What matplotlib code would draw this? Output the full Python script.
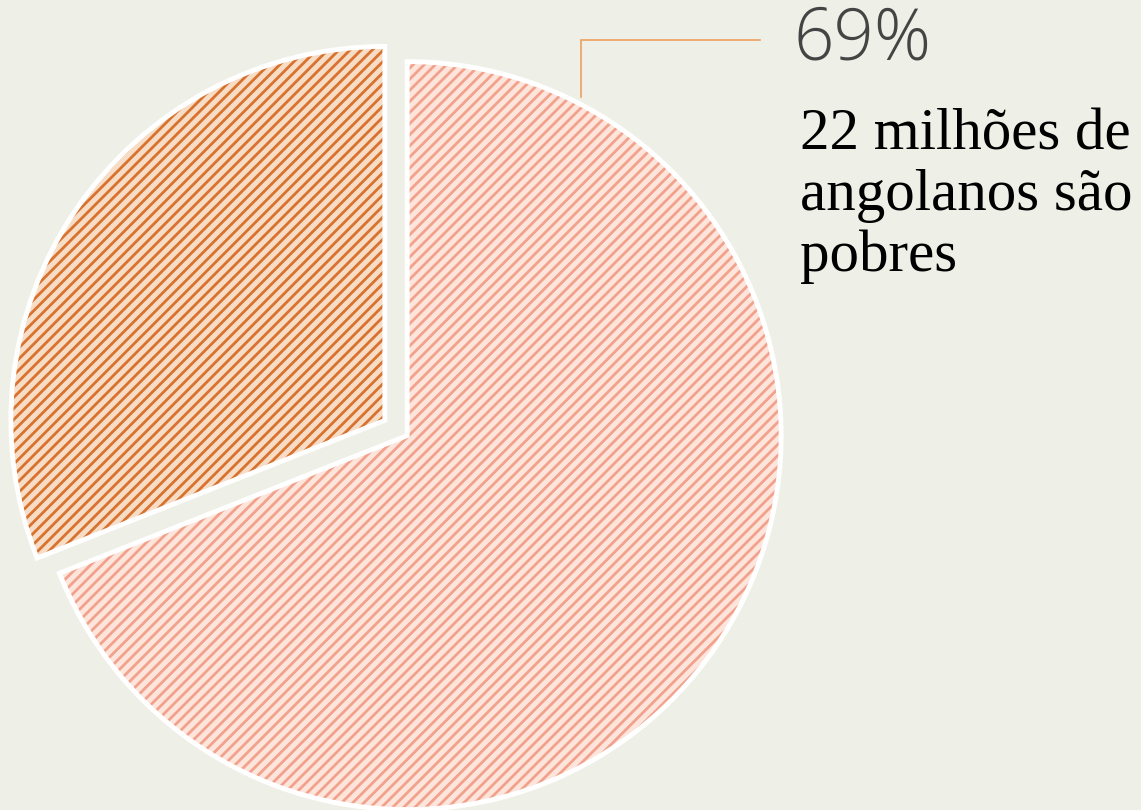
import matplotlib
matplotlib.use('Agg')
import matplotlib.pyplot as plt

# data
shares = [69, 31]
labels = ['pobres', 'outros']
face_colors = ['#FDE5DC', '#F7DCC6']
hatch_colors = ['#F2A28C', '#D8722F']
pct_label = '69%'
note_lines = ['22 milhões de', 'angolanos são', 'pobres']

bg = '#EEEFE6'
W, H = 1141, 810

plt.rcParams['hatch.linewidth'] = 2.0

fig = plt.figure(figsize=(W / 100, H / 100), dpi=100, facecolor=bg)
ax = fig.add_axes([0, 0, 1, 1])
ax.set_facecolor(bg)

center = (396, 382)
radius = 374
explode = [13.5, 13.5]  # pie() uses data units for explode

# hatched fill (hatch takes the edge colour)
wedges, _ = ax.pie(shares, explode=explode, center=center, radius=radius,
                   startangle=90, counterclock=False, colors=face_colors,
                   wedgeprops=dict(linewidth=0))
for w, hc in zip(wedges, hatch_colors):
    w.set_hatch('///')
    w.set_edgecolor(hc)

# white outline on top
outl, _ = ax.pie(shares, explode=explode, center=center, radius=radius,
                 startangle=90, counterclock=False,
                 wedgeprops=dict(fill=False, edgecolor='white', linewidth=3.5))

# pie() resets limits, so set them afterwards
ax.set_xlim(0, W)
ax.set_ylim(0, H)
ax.set_aspect('equal')
ax.axis('off')

# leader line
ax.plot([581, 581, 760], [H - 97, H - 40, H - 40], color='#F0A060',
        linewidth=1.2, solid_joinstyle='miter')

ax.text(794, H - 40, pct_label, fontsize=51, color='#444444',
        family=['Open Sans', 'DejaVu Sans'], fontweight='light',
        ha='left', va='center')

for i, line in enumerate(note_lines):
    ax.text(800, H - 149 - i * 61, line, fontsize=42.5, color='black',
            family=['Liberation Serif', 'DejaVu Serif'],
            ha='left', va='baseline')

fig.savefig('out.png', dpi=100, facecolor=bg)
